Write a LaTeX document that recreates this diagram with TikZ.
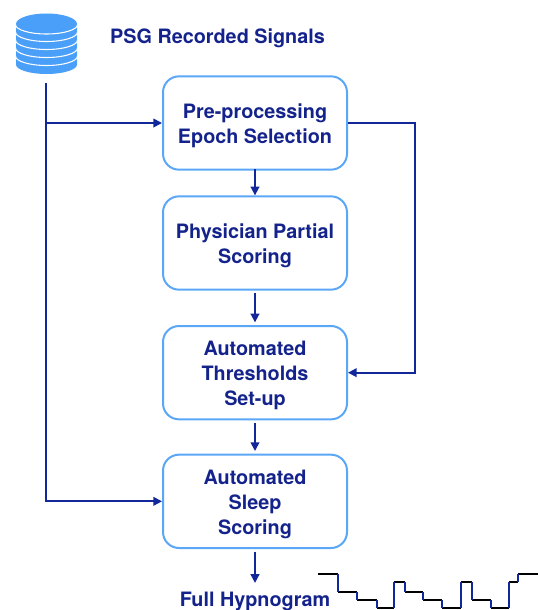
\documentclass[tikz,border=0pt]{standalone}
\usepackage{fontspec}
\setmainfont{TeX Gyre Heros}
\usetikzlibrary{positioning,arrows.meta}
\definecolor{navyline}{HTML}{12279A}
\definecolor{navytext}{HTML}{14238C}
\definecolor{boxblue}{HTML}{5BA7F7}
\definecolor{dbblue}{HTML}{4A9FF8}
\newcommand{\lift}{\rule{0pt}{15.5pt}}
\tikzset{
    stepbox/.style={draw=boxblue, line width=1.5pt, rounded corners=12pt, minimum width=138pt, minimum height=70pt, align=center, text=navytext, font=\fontsize{14.85}{18.75}\selectfont\bfseries},
    caption/.style={text=navytext, font=\fontsize{14.85}{18.75}\selectfont\bfseries},
    flow/.style={draw=navyline, line width=1.3pt, -{Triangle[length=6.5pt,width=6.5pt]}},
    trace/.style={line width=1.1pt}
}
\begin{document}
\begin{tikzpicture}[x=0.75pt,y=-0.75pt]
    \useasboundingbox (0,0) rectangle (538,610);
    % signal stack
    \fill[dbblue] (16,24) arc[start angle=180, end angle=360, x radius=30.5, y radius=10.5] -- (77,64.5) arc[start angle=0, end angle=180, x radius=30.5, y radius=9.5] -- cycle;
    \foreach \y in {24.5,32,40,48,56} {
        \draw[white, line width=0.8pt] (15.5,\y) arc[start angle=180, end angle=0, x radius=31, y radius=9.5];
    }
    \node[caption] (psg) at (217.5,38) {PSG Recorded Signals};
    % boxes
    \node[stepbox] (pre) at (255,123) {\lift Pre-processing\\Epoch Selection};
    \node[stepbox, below=18.5pt of pre] (partial) {\lift Physician Partial\\Scoring};
    \node[stepbox, below=25.75pt of partial] (thresh) {\lift Automated\\Thresholds\\Set-up};
    \node[stepbox, below=25pt of thresh] (sleep) {\lift Automated\\Sleep\\Scoring};
    \node[caption] (full) at (255,601) {Full Hypnogram};
    \coordinate (dbout) at (46,83);
    \coordinate (rail) at (415,123);
    % connectors
    \draw[flow] (dbout) -- (dbout |- sleep.west) -- (sleep.west);
    \draw[flow] (dbout |- pre.west) -- (pre.west);
    \draw[flow] (pre.east) -- (rail) -- (rail |- thresh.east) -- (thresh.east);
    \draw[flow, shorten <=-1pt] (pre.south) -- (partial.north);
    \draw[flow, shorten <=2pt, shorten >=2pt] (partial.south) -- (thresh.north);
    \draw[flow, shorten <=2pt, shorten >=2pt] (thresh.south) -- (sleep.north);
    \draw[flow, shorten <=2pt, shorten >=3pt] (sleep.south) -- (full.north);
    % hypnogram
    \foreach \xa/\xb/\y in {318/338/574,338/357/592,357/377/600,377/394/608,394/405/582,405/423/592,423/442/600,442/461/608,461/472/582,472/491/600,491/509/608,509/518/582,518/538/574} {
        \draw[trace, black] (\xa,\y) -- (\xb,\y);
    }
    \foreach \x/\ya/\yb in {338/574/592,357/592/600,377/600/608,394/608/582,405/582/592,423/592/600,442/600/608,461/608/582,472/582/600,491/600/608,509/608/582,518/582/574} {
        \draw[trace, navyline] (\x,\ya) -- (\x,\yb);
    }
\end{tikzpicture}
\end{document}
